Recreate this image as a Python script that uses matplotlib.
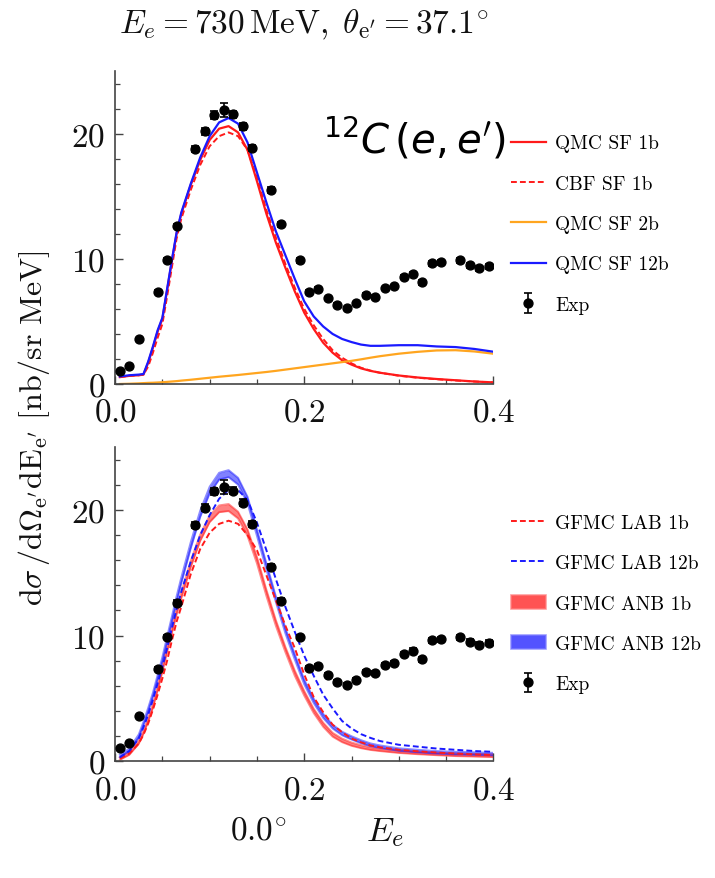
import numpy as np
import matplotlib
matplotlib.use("Agg")
import matplotlib.pyplot as plt
from matplotlib.ticker import MultipleLocator
from matplotlib.patches import Patch

plt.rcParams["font.family"] = "serif"
plt.rcParams["font.serif"] = ["cmr10"]
plt.rcParams["mathtext.fontset"] = "cm"
plt.rcParams["axes.formatter.use_mathtext"] = True
plt.rcParams["axes.unicode_minus"] = False

# ---- experimental data: 12C(e,e'), E_e = 730 MeV, theta = 37.1 deg ----
exp_x = [0.005, 0.015, 0.025, 0.045, 0.055, 0.065, 0.085, 0.095, 0.105, 0.115,
         0.125, 0.135, 0.145, 0.165, 0.175, 0.195, 0.205, 0.215, 0.225, 0.235,
         0.245, 0.255, 0.265, 0.275, 0.285, 0.295, 0.305, 0.315, 0.325, 0.335,
         0.345, 0.365, 0.375, 0.385, 0.395]
exp_y = [1.06, 1.46, 3.59, 7.37, 9.92, 12.63, 18.80, 20.19, 21.49, 21.86,
         21.54, 20.59, 18.86, 15.50, 12.77, 9.87, 7.39, 7.58, 6.84, 6.30,
         6.04, 6.44, 7.13, 6.99, 7.63, 7.79, 8.54, 8.80, 8.11, 9.63,
         9.71, 9.87, 9.49, 9.26, 9.41]
exp_err = [0.03, 0.04, 0.08, 0.12, 0.15, 0.18, 0.25, 0.28, 0.3, 0.55,
           0.3, 0.28, 0.25, 0.22, 0.2, 0.18, 0.15, 0.15, 0.15, 0.15,
           0.15, 0.15, 0.15, 0.15, 0.15, 0.15, 0.18, 0.18, 0.18, 0.2,
           0.2, 0.2, 0.2, 0.2, 0.2]

# ---- theory energy-transfer grid ----
omega = [0.005, 0.015, 0.025, 0.03, 0.035, 0.04, 0.045, 0.05, 0.055, 0.06,
         0.065, 0.07, 0.08, 0.09, 0.10, 0.11, 0.12, 0.13, 0.14, 0.15,
         0.16, 0.17, 0.18, 0.19, 0.20, 0.21, 0.22, 0.23, 0.24, 0.25,
         0.26, 0.27, 0.28, 0.30, 0.32, 0.34, 0.36, 0.38, 0.40]

# upper panel: spectral-function results
qmc_sf_1b = [0.55, 0.65, 0.7, 0.75, 1.7, 2.9, 4.2, 5.2, 7.5, 9.8,
             12.0, 13.6, 15.9, 17.9, 19.5, 20.4, 20.6, 20.1, 18.7, 16.2,
             13.6, 11.3, 9.3, 7.4, 5.7, 4.4, 3.3, 2.5, 1.9, 1.55,
             1.25, 1.05, 0.9, 0.68, 0.52, 0.4, 0.3, 0.2, 0.13]
cbf_sf_1b = [0.55, 0.65, 0.7, 0.75, 1.4, 2.5, 3.7, 4.8, 7.0, 9.3,
             11.6, 13.2, 15.5, 17.5, 19.0, 19.8, 20.1, 19.8, 18.7, 16.5,
             13.9, 11.7, 9.6, 7.7, 6.0, 4.7, 3.6, 2.7, 2.1, 1.65,
             1.3, 1.07, 0.9, 0.66, 0.5, 0.38, 0.28, 0.2, 0.12]
qmc_sf_2b = [0.0, 0.02, 0.05, 0.07, 0.09, 0.1, 0.12, 0.14, 0.17, 0.2,
             0.23, 0.27, 0.34, 0.42, 0.5, 0.58, 0.65, 0.72, 0.8, 0.88,
             0.96, 1.05, 1.15, 1.25, 1.35, 1.45, 1.55, 1.65, 1.75, 1.85,
             1.97, 2.1, 2.22, 2.42, 2.57, 2.68, 2.7, 2.6, 2.42]
qmc_sf_12b = [0.6, 0.7, 0.75, 0.8, 1.8, 3.0, 4.3, 5.3, 7.6, 9.9,
              12.1, 13.7, 16.0, 18.1, 19.8, 20.9, 21.25, 20.8, 19.3, 16.9,
              14.5, 12.2, 10.3, 8.4, 6.6, 5.4, 4.6, 4.0, 3.6, 3.35,
              3.15, 3.05, 3.05, 3.1, 3.1, 3.0, 2.95, 2.8, 2.58]

# lower panel: GFMC results
gfmc_lab_1b = [0.2, 0.6, 1.4, 2.1, 3.0, 4.1, 5.3, 6.6, 8.0, 9.6,
               11.1, 12.3, 14.9, 16.9, 18.2, 18.9, 19.15, 18.9, 18.0, 16.8,
               14.8, 12.8, 10.8, 9.0, 6.9, 5.1, 3.9, 2.9, 2.3, 1.8,
               1.5, 1.25, 1.1, 0.9, 0.78, 0.68, 0.6, 0.53, 0.48]
gfmc_lab_12b = [0.3, 0.8, 1.8, 2.7, 3.7, 4.9, 6.2, 7.5, 9.0, 10.6,
                12.1, 13.5, 15.9, 18.0, 19.6, 20.9, 21.6, 21.6, 20.8, 19.0,
                16.8, 14.5, 12.3, 10.3, 8.4, 6.8, 5.3, 4.2, 3.2, 2.6,
                2.15, 1.85, 1.6, 1.3, 1.15, 1.0, 0.9, 0.8, 0.74]
gfmc_anb_1b = [0.2, 0.6, 1.5, 2.3, 3.3, 4.4, 5.8, 7.3, 8.9, 10.4,
               11.9, 13.2, 15.7, 17.8, 19.3, 20.1, 20.2, 19.6, 18.2, 16.0,
               13.4, 11.0, 8.9, 7.0, 5.4, 4.0, 2.9, 2.1, 1.65, 1.35,
               1.15, 1.0, 0.9, 0.75, 0.65, 0.57, 0.5, 0.46, 0.42]
gfmc_anb_12b = [0.4, 0.9, 2.0, 3.0, 4.1, 5.3, 6.7, 8.1, 9.7, 11.3,
                12.9, 14.4, 17.2, 19.7, 21.6, 22.7, 22.9, 22.3, 20.8, 18.2,
                15.5, 12.9, 10.4, 8.3, 6.3, 4.8, 3.6, 2.75, 2.2, 1.85,
                1.55, 1.3, 1.15, 0.92, 0.8, 0.7, 0.64, 0.6, 0.56]
# half-width of the GFMC ANB uncertainty bands
anb_halfwidth = [0.1, 0.1, 0.12, 0.12, 0.14, 0.15, 0.16, 0.18, 0.2, 0.2,
                 0.22, 0.22, 0.24, 0.25, 0.26, 0.27, 0.28, 0.27, 0.26, 0.25,
                 0.24, 0.22, 0.2, 0.2, 0.18, 0.17, 0.16, 0.15, 0.14, 0.13,
                 0.12, 0.11, 0.1, 0.1, 0.1, 0.1, 0.1, 0.1, 0.1]

RED = "#ff1a1a"
BLUE = "#1a1aff"
ORANGE = "#ffa51f"
SPINE = "#444444"

fig = plt.figure(figsize=(7.15, 8.79), dpi=100)
LEG_KW = dict(loc="upper left", bbox_transform=fig.transFigure, frameon=False,
              fontsize=14, handlelength=1.85, handletextpad=0.45,
              labelspacing=1.15, borderpad=0, borderaxespad=0)
ax_top = fig.add_axes([0.161, 0.562, 0.529, 0.356])
ax_bot = fig.add_axes([0.161, 0.133, 0.529, 0.357])


def style_axes(ax):
    ax.set_xlim(0, 0.4)
    ax.set_ylim(0, 25)
    for side in ("top", "right"):
        ax.spines[side].set_visible(False)
    for side in ("left", "bottom"):
        ax.spines[side].set_color(SPINE)
        ax.spines[side].set_linewidth(1.2)
    ax.xaxis.set_major_locator(MultipleLocator(0.2))
    ax.xaxis.set_minor_locator(MultipleLocator(0.05))
    ax.yaxis.set_major_locator(MultipleLocator(10))
    ax.yaxis.set_minor_locator(MultipleLocator(2))
    ax.tick_params(which="both", direction="in", colors=SPINE,
                   labelcolor="#111111", labelsize=24, pad=7)
    ax.tick_params(which="major", length=6, width=1.0)
    ax.tick_params(which="minor", length=3.5, width=0.9)
    ax.tick_params(axis="x", pad=10)


def draw_exp(ax):
    ax.errorbar(exp_x, exp_y, yerr=exp_err, fmt="o", color="black",
                markersize=6.4, capsize=3, elinewidth=1.2, capthick=1.2,
                label="Exp", zorder=5)


# ---------------- upper panel ----------------
style_axes(ax_top)
ax_top.plot(omega, qmc_sf_1b, color=RED, lw=1.6, label="QMC SF 1b")
ax_top.plot(omega, cbf_sf_1b, color=RED, lw=1.4, ls=(0, (3, 1.6)),
            label="CBF SF 1b")
ax_top.plot(omega, qmc_sf_2b, color=ORANGE, lw=1.6, label="QMC SF 2b")
ax_top.plot(omega, qmc_sf_12b, color=BLUE, lw=1.6, label="QMC SF 12b")
draw_exp(ax_top)

ax_top.legend(bbox_to_anchor=(0.714, 0.846), **LEG_KW)

# ---------------- lower panel ----------------
style_axes(ax_bot)
om = np.array(omega)
for centre, col in ((gfmc_anb_1b, RED), (gfmc_anb_12b, BLUE)):
    c = np.array(centre)
    hw = np.array(anb_halfwidth)
    ax_bot.fill_between(om, c - hw, c + hw, color=col, alpha=0.55, lw=0)
    ax_bot.plot(om, c - hw, color=col, lw=1.4, alpha=0.5)
    ax_bot.plot(om, c + hw, color=col, lw=1.4, alpha=0.5)
ax_bot.plot(omega, gfmc_lab_1b, color=RED, lw=1.4, ls=(0, (3, 1.6)))
ax_bot.plot(omega, gfmc_lab_12b, color=BLUE, lw=1.4, ls=(0, (3, 1.6)))
draw_exp(ax_bot)

h_lab1 = plt.Line2D([], [], color=RED, lw=1.4, ls=(0, (3, 1.6)))
h_lab12 = plt.Line2D([], [], color=BLUE, lw=1.4, ls=(0, (3, 1.6)))
h_anb1 = Patch(facecolor=RED, alpha=0.75, edgecolor="#ff8080", lw=1.2)
h_anb12 = Patch(facecolor=BLUE, alpha=0.75, edgecolor="#8080ff", lw=1.2)
h_exp = ax_bot.get_legend_handles_labels()[0][-1]
ax_bot.legend([h_lab1, h_lab12, h_anb1, h_anb12, h_exp],
              ["GFMC LAB 1b", "GFMC LAB 12b", "GFMC ANB 1b", "GFMC ANB 12b",
               "Exp"],
              bbox_to_anchor=(0.714, 0.414), **LEG_KW)

# ---------------- labels ----------------
fig.text(0.424, 0.972,
         r"$E_e = 730\,\mathrm{MeV},\;\theta_{\mathrm{e}^\prime} = 37.1^{\circ}$",
         ha="center", va="center", fontsize=24, color="#111111")
fig.text(0.452, 0.843, r"$^{12}C\,(e,e^\prime)$", math_fontfamily="dejavusans",
         ha="left", va="center", fontsize=29, color="black")
fig.text(0.048, 0.513,
         r"$\mathrm{d}\sigma\,/\mathrm{d}\Omega_{\mathrm{e}^\prime}\mathrm{dE}_{\mathrm{e}^\prime}\ [\mathrm{nb/sr\ MeV}]$",
         rotation=90, ha="center", va="center", fontsize=23, color="#111111")
fig.text(0.361, 0.053, r"$0.0^{\circ}$", ha="center", va="center",
         fontsize=24, color="#111111")
fig.text(0.538, 0.053, r"$E_e$", ha="center", va="center",
         fontsize=25, color="#111111")

fig.savefig("out.png", dpi=100)
